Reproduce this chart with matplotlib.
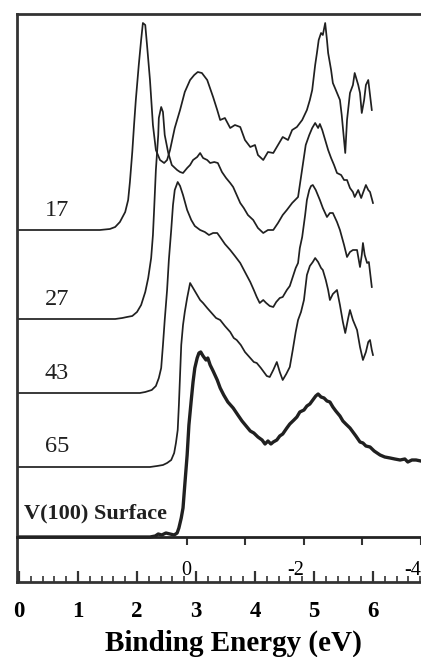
import matplotlib
matplotlib.use('Agg')
import matplotlib.pyplot as plt
from matplotlib.ticker import MultipleLocator

plt.rcParams['font.family'] = 'Liberation Serif'

# photon energies (eV) used as labels for each spectrum
labels = ['17', '27', '43', '65']

# vertical offsets of each spectrum (arbitrary units)
offsets = [352, 263, 189, 115, 45]

be_17 = [-0.05, 1.37, 1.54, 1.63, 1.71, 1.80, 1.85, 1.88, 1.92, 1.95,
         1.98, 2.03, 2.07, 2.10, 2.14, 2.17, 2.22, 2.27, 2.32, 2.39,
         2.46, 2.51, 2.56, 2.64, 2.73, 2.81, 2.90, 2.97, 3.03, 3.10,
         3.19, 3.29, 3.36, 3.41, 3.49, 3.58, 3.66, 3.75, 3.83, 3.92,
         4.00, 4.05, 4.14, 4.22, 4.31, 4.39, 4.47, 4.56, 4.63, 4.71,
         4.80, 4.88, 4.93, 4.97, 5.02, 5.05, 5.08, 5.12, 5.15, 5.19,
         5.22, 5.24, 5.29, 5.32, 5.37, 5.44, 5.47, 5.53, 5.56, 5.61,
         5.66, 5.69, 5.75, 5.78, 5.81, 5.85, 5.88, 5.92, 5.95, 5.98]
int_17 = [0, 0, 1, 3, 8, 18, 30, 48, 78, 105,
          130, 165, 190, 207, 205, 185, 150, 105, 80, 70,
          67, 70, 80, 102, 120, 138, 150, 155, 158, 157,
          150, 133, 120, 110, 112, 102, 105, 103, 90, 83,
          85, 75, 70, 78, 77, 85, 93, 90, 100, 103,
          110, 120, 130, 140, 165, 177, 190, 197, 195, 207,
          190, 177, 160, 147, 140, 130, 115, 77, 110, 137,
          145, 157, 145, 137, 117, 130, 145, 150, 135, 120]

be_27 = [-0.05, 1.63, 1.75, 1.83, 1.92, 2.00, 2.07, 2.14, 2.19, 2.24,
         2.27, 2.29, 2.32, 2.36, 2.37, 2.41, 2.44, 2.47, 2.53, 2.59,
         2.68, 2.73, 2.78, 2.85, 2.90, 2.95, 3.02, 3.07, 3.12, 3.19,
         3.24, 3.31, 3.37, 3.44, 3.51, 3.58, 3.63, 3.69, 3.75, 3.81,
         3.88, 3.97, 4.05, 4.14, 4.22, 4.31, 4.39, 4.47, 4.54, 4.63,
         4.73, 4.76, 4.81, 4.86, 4.92, 4.97, 5.02, 5.07, 5.10, 5.14,
         5.19, 5.24, 5.29, 5.34, 5.39, 5.46, 5.51, 5.56, 5.61, 5.66,
         5.69, 5.75, 5.80, 5.83, 5.88, 5.92, 5.95, 6.00]
int_27 = [0, 0, 1, 2, 3, 7, 14, 27, 41, 61,
          84, 109, 149, 184, 201, 212, 207, 184, 166, 154,
          149, 147, 146, 151, 154, 159, 162, 166, 161, 159,
          156, 157, 156, 147, 141, 136, 132, 124, 116, 111,
          104, 99, 91, 86, 89, 89, 96, 104, 109, 116,
          122, 134, 154, 174, 184, 191, 196, 191, 195, 189,
          179, 169, 161, 154, 146, 144, 139, 139, 131, 127,
          122, 129, 121, 126, 134, 129, 127, 116]

be_43 = [-0.05, 2.05, 2.14, 2.25, 2.32, 2.37, 2.41, 2.44, 2.47, 2.51,
         2.54, 2.58, 2.61, 2.64, 2.69, 2.73, 2.78, 2.85, 2.92, 2.98,
         3.07, 3.15, 3.22, 3.29, 3.36, 3.42, 3.49, 3.58, 3.66, 3.75,
         3.83, 3.92, 3.98, 4.03, 4.08, 4.14, 4.19, 4.25, 4.31, 4.36,
         4.42, 4.47, 4.54, 4.59, 4.64, 4.69, 4.73, 4.76, 4.80, 4.85,
         4.88, 4.92, 4.95, 4.98, 5.03, 5.10, 5.15, 5.22, 5.27, 5.32,
         5.39, 5.44, 5.51, 5.56, 5.61, 5.66, 5.73, 5.78, 5.81, 5.83,
         5.86, 5.90, 5.93, 5.98]
int_43 = [0, 0, 1, 3, 7, 15, 25, 48, 73, 103,
          133, 163, 188, 203, 211, 207, 198, 183, 173, 167,
          163, 161, 158, 160, 160, 155, 149, 143, 137, 130,
          121, 111, 103, 96, 90, 93, 90, 87, 86, 91,
          95, 96, 103, 107, 116, 125, 130, 145, 156, 178,
          193, 203, 207, 208, 203, 193, 185, 176, 180, 180,
          171, 163, 148, 136, 141, 143, 143, 126, 138, 150,
          138, 130, 131, 106]

be_65 = [-0.05, 2.22, 2.34, 2.44, 2.51, 2.58, 2.63, 2.66, 2.69, 2.71,
         2.73, 2.75, 2.78, 2.81, 2.85, 2.90, 2.95, 3.02, 3.07, 3.12,
         3.19, 3.25, 3.34, 3.41, 3.49, 3.58, 3.64, 3.69, 3.76, 3.83,
         3.92, 3.98, 4.03, 4.10, 4.15, 4.20, 4.25, 4.31, 4.37, 4.42,
         4.47, 4.53, 4.59, 4.64, 4.69, 4.73, 4.78, 4.83, 4.88, 4.93,
         4.98, 5.02, 5.07, 5.12, 5.15, 5.20, 5.24, 5.27, 5.32, 5.39,
         5.44, 5.49, 5.53, 5.58, 5.61, 5.66, 5.73, 5.78, 5.83, 5.88,
         5.92, 5.95, 5.98, 6.00]
int_65 = [0, 0, 1, 2, 4, 7, 14, 24, 37, 62,
          92, 122, 142, 155, 169, 184, 179, 172, 167, 164,
          159, 155, 149, 147, 141, 135, 129, 127, 122, 115,
          109, 105, 104, 99, 95, 91, 90, 97, 105, 95,
          87, 93, 100, 117, 135, 147, 155, 167, 192, 201,
          205, 209, 205, 199, 197, 187, 177, 167, 173, 177,
          162, 145, 134, 149, 157, 147, 137, 120, 107, 115,
          125, 127, 117, 112]

# clean V(100) surface
be_v = [-0.05, 2.22, 2.31, 2.36, 2.42, 2.49, 2.56, 2.63, 2.68, 2.71,
        2.75, 2.78, 2.81, 2.85, 2.88, 2.92, 2.95, 2.98, 3.02, 3.05,
        3.08, 3.12, 3.17, 3.20, 3.24, 3.29, 3.36, 3.41, 3.47, 3.54,
        3.63, 3.71, 3.78, 3.85, 3.92, 3.98, 4.05, 4.12, 4.17, 4.22,
        4.27, 4.31, 4.37, 4.42, 4.47, 4.54, 4.59, 4.66, 4.71, 4.76,
        4.83, 4.88, 4.93, 4.98, 5.03, 5.07, 5.12, 5.17, 5.22, 5.27,
        5.32, 5.37, 5.44, 5.49, 5.54, 5.61, 5.66, 5.71, 5.78, 5.83,
        5.88, 5.95, 6.02, 6.07, 6.12, 6.20, 6.29, 6.37, 6.46, 6.54,
        6.59, 6.66, 6.73, 6.81]
int_v = [0, 0, 1, 3, 2, 4, 3, 2, 4, 9,
         19, 29, 52, 82, 112, 137, 155, 169, 179, 184,
         185, 181, 177, 179, 172, 166, 157, 149, 142, 135,
         129, 122, 116, 111, 106, 104, 100, 97, 93, 96,
         93, 95, 97, 101, 103, 109, 113, 117, 120, 125,
         127, 131, 133, 137, 141, 143, 140, 139, 136, 135,
         130, 126, 121, 116, 113, 109, 105, 101, 95, 94,
         91, 90, 86, 84, 82, 80, 79, 78, 77, 78,
         75, 77, 77, 76]

# upper scale (energy relative to the edge) and where its 0 sits on the BE axis
top_ticks = [0, -1, -2, -3, -4]
top_tick_labels = ['0', '', '-2', '', '-4']
top_zero = 2.86

W, H = 421, 657
fig = plt.figure(figsize=(W / 100, H / 100), dpi=100)
ax = fig.add_axes([17 / W, 75 / H, 1 - 17 / W, 568 / H])

ink = '#202020'
spectra = [(be_17, int_17), (be_27, int_27), (be_43, int_43), (be_65, int_65)]
for (be, inten), off in zip(spectra, offsets[:4]):
    ax.plot(be, [v + off for v in inten], color=ink, lw=1.25)
ax.plot(be_v, [v + offsets[4] for v in int_v], color=ink, lw=2.4)

for lab, off in zip(labels, offsets[:4]):
    ax.text(0.64, off + 20, lab, ha='center', va='center', fontsize=17.5, color=ink)
ax.text(1.29, offsets[4] + 24, 'V(100) Surface', ha='center', va='center',
        fontsize=16, fontweight='bold', color=ink)

ax.set_xlim(-0.034, 6.814)
ax.set_ylim(0, 568)
ax.set_yticks([])
ax.spines['right'].set_visible(False)
for s in ['left', 'top', 'bottom']:
    ax.spines[s].set_linewidth(2)
    ax.spines[s].set_color('#333333')
ax.xaxis.set_major_locator(MultipleLocator(1))
ax.xaxis.set_minor_locator(MultipleLocator(0.2))
ax.tick_params(axis='x', which='major', direction='in', length=8, width=1.6,
               pad=14, labelsize=16.5, color='#333333')
ax.tick_params(axis='x', which='minor', direction='in', length=4, width=1.2,
               color='#333333')
for t in ax.get_xticklabels():
    t.set_fontweight('bold')
ax.set_xlabel('Binding Energy (eV)', fontsize=21, fontweight='bold')
ax.xaxis.set_label_coords(0.535, -0.108)
ax.xaxis.label.set_verticalalignment('center')

# inner axis line with the relative energy scale
ax2 = ax.inset_axes([0, offsets[4] / 568, 1, 0.3])
ax2.patch.set_visible(False)
for s in ['left', 'right', 'top']:
    ax2.spines[s].set_visible(False)
ax2.spines['bottom'].set_linewidth(2)
ax2.spines['bottom'].set_color('#222222')
ax2.set_xlim(ax.get_xlim())
ax2.set_yticks([])
ax2.set_xticks([top_zero - t for t in top_ticks])
ax2.set_xticklabels(top_tick_labels)
ax2.tick_params(axis='x', direction='out', length=6, width=1.5, pad=11,
                labelsize=14.5, color='#333333')
for t in ax2.get_xticklabels():
    if t.get_text().startswith('-'):
        t.set_horizontalalignment('right')

fig.savefig('out.png', dpi=100)
